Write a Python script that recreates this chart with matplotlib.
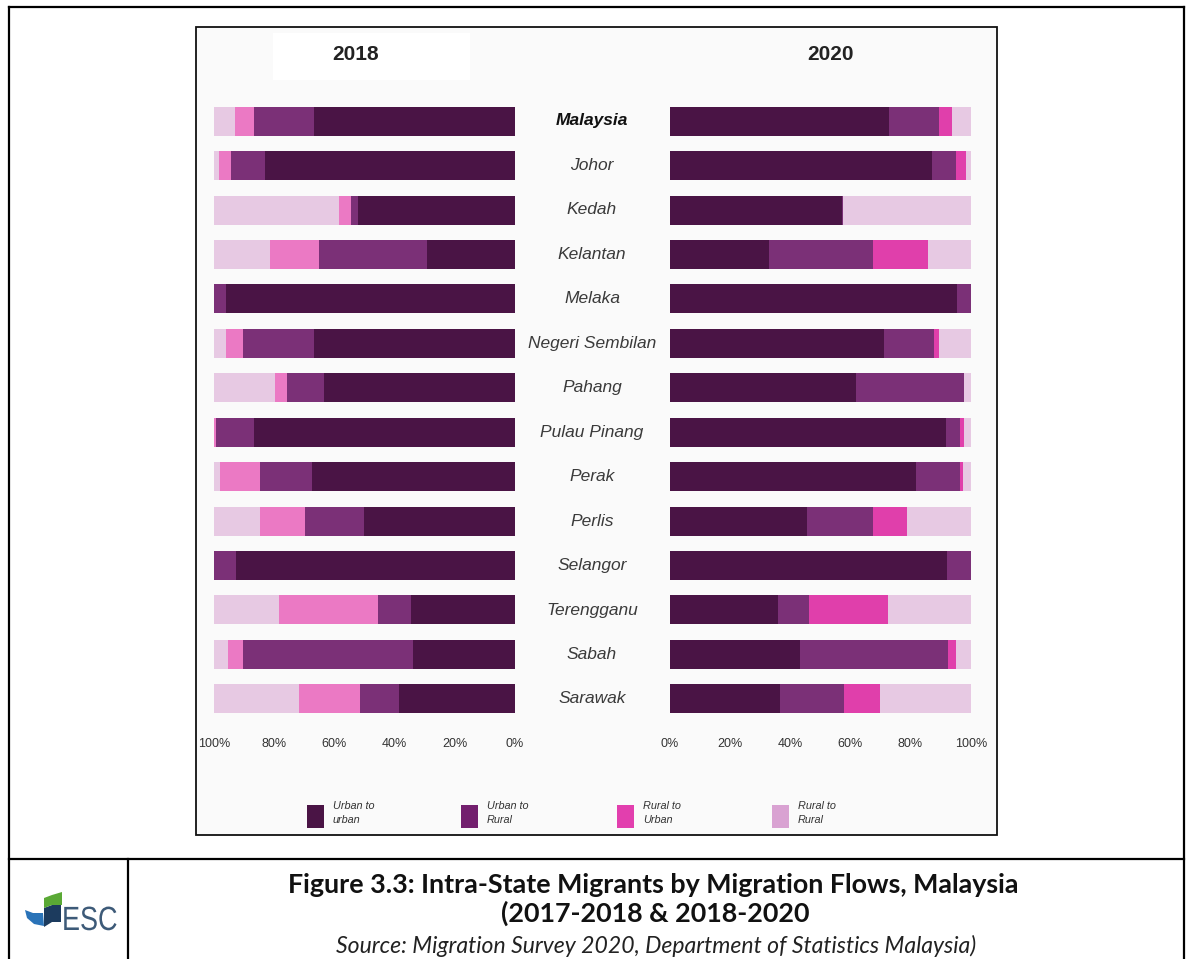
'''
Intra-State migrants by migration flows, Malaysia 2018 vs 2020
'''

import matplotlib
matplotlib.use('Agg')
import matplotlib.pyplot as plt
from matplotlib.patches import Rectangle, Polygon, PathPatch
from matplotlib.textpath import TextPath
from matplotlib.font_manager import FontProperties
from matplotlib.transforms import Affine2D

STATES = ['Malaysia', 'Johor', 'Kedah', 'Kelantan', 'Melaka',
          'Negeri Sembilan', 'Pahang', 'Pulau Pinang', 'Perak', 'Perlis',
          'Selangor', 'Terengganu', 'Sabah', 'Sarawak']
FLOWS = ['Urban to\nurban', 'Urban to\nRural', 'Rural to\nUrban',
         'Rural to\nRural']

# percentages, 2017-2018
UU_2018 = [66.7, 83.1, 52.1, 29.4, 96.1, 66.7, 63.4, 86.7, 67.3, 50.1, 92.6, 34.7, 34.0, 38.7]
UR_2018 = [20.1, 11.3, 2.5, 35.8, 3.9, 23.6, 12.2, 12.5, 17.3, 19.7, 7.4, 10.8, 56.3, 12.7]
RU_2018 = [6.3, 4.0, 3.9, 16.3, 0.0, 5.6, 4.2, 0.8, 13.3, 14.8, 0.0, 33.0, 5.2, 20.3]
RR_2018 = [6.9, 1.6, 41.5, 18.5, 0.0, 4.1, 20.2, 0.0, 2.1, 15.4, 0.0, 21.5, 4.5, 28.3]

# percentages, 2018-2020
UU_2020 = [72.7, 87.2, 57.2, 32.9, 95.6, 71.2, 62.0, 91.7, 81.9, 45.6, 92.0, 35.9, 43.3, 36.7]
UR_2020 = [16.9, 8.0, 0.4, 34.6, 4.4, 16.7, 35.9, 4.6, 14.4, 21.9, 8.0, 10.4, 49.2, 21.2]
RU_2020 = [4.1, 3.1, 0.0, 18.3, 0.0, 1.4, 0.0, 1.5, 1.2, 11.4, 0.0, 26.3, 2.6, 11.8]
RR_2020 = [6.3, 1.7, 42.4, 14.2, 0.0, 10.7, 2.1, 2.2, 2.5, 21.1, 0.0, 27.4, 4.9, 30.3]

PERCENT_TICKS = [0, 20, 40, 60, 80, 100]
PERCENT_LABELS = ['0%', '20%', '40%', '60%', '80%', '100%']

COLORS_2018 = ['#4a1445', '#7b3077', '#eb79c4', '#e7c9e3']
COLORS_2020 = ['#4a1445', '#7b3077', '#e03fab', '#e7c9e3']
LEGEND_COLORS = ['#4a1445', '#731f6e', '#e23fae', '#d9a2d2']

W, H = 1186, 959


def fig_box(x0, y0, x1, y1):
    '''convert pixel box (top-left origin) to figure fractions'''
    return [x0 / W, 1 - y1 / H, (x1 - x0) / W, (y1 - y0) / H]


def draw_frame(fig):
    '''
    Overlay axes in pixel units for borders, caption and logo
    '''
    ov = fig.add_axes([0, 0, 1, 1])
    ov.set_xlim(0, W)
    ov.set_ylim(H, 0)
    ov.axis('off')
    ov.patch.set_alpha(0)

    # chart box and header patch
    ov.add_patch(Rectangle((196, 27), 801, 808, facecolor='#fafafa',
                           edgecolor='#111111', lw=1.3))
    ov.add_patch(Rectangle((273, 33), 197, 47, facecolor='white',
                           edgecolor='none'))

    # table lines
    lw = 1.6
    ov.plot([9, 1184], [7, 7], color='black', lw=lw)
    ov.plot([9, 9], [7, H], color='black', lw=lw)
    ov.plot([1184, 1184], [7, H], color='black', lw=lw)
    ov.plot([9, 1184], [859, 859], color='black', lw=lw)
    ov.plot([128, 128], [859, H], color='black', lw=lw)

    ov.text(356, 55, '2018', ha='center', va='center', fontsize=15,
            fontweight='bold', family='Liberation Sans', color='#222222')
    ov.text(830, 55, '2020', ha='center', va='center', fontsize=15,
            fontweight='bold', family='Liberation Sans', color='#222222')

    # caption
    ov.text(653, 885, 'Figure 3.3: Intra-State Migrants by Migration Flows, Malaysia',
            ha='center', va='center', fontsize=19.4, fontweight='bold',
            family='Lato', color='#111111')
    ov.text(655, 913, '(2017-2018 & 2018-2020', ha='center', va='center',
            fontsize=19.4, fontweight='bold', family='Lato', color='#111111')
    ov.text(656, 946, 'Source: Migration Survey 2020, Department of Statistics Malaysia)',
            ha='center', va='center', fontsize=16.6, style='italic',
            family='Lato', color='#222222')

    # ESC logo
    ov.add_patch(Polygon([(25, 910), (33, 913), (43, 913), (44, 926),
                          (34, 924), (27, 918)], closed=True,
                         facecolor='#2a73b8', edgecolor='none'))
    ov.add_patch(Polygon([(44, 908), (52, 905), (61, 905), (61, 922),
                          (52, 922), (44, 927)], closed=True,
                         facecolor='#1c3b5e', edgecolor='none'))
    ov.add_patch(Polygon([(44, 898), (52, 895), (62, 892), (62, 905),
                          (52, 905), (44, 908)], closed=True,
                         facecolor='#5aa935', edgecolor='none'))
    path = TextPath((0, 0), 'ESC', size=30,
                    prop=FontProperties(family='Liberation Sans'))
    tr = Affine2D().scale(0.9, -1.12).translate(62, 930) + ov.transData
    ov.add_patch(PathPatch(path, transform=tr, facecolor='#3d5a78',
                           edgecolor='none'))

    # legend
    for i, (label, color) in enumerate(zip(FLOWS, LEGEND_COLORS)):
        x = [307, 461, 617, 772][i]
        ov.add_patch(Rectangle((x, 805), 17, 23, facecolor=color,
                               edgecolor='none'))
        ov.text(x + 26, 813, label, ha='left', va='center', fontsize=7.8,
                style='italic', family='Liberation Sans', color='#333333',
                linespacing=1.55)
    return ov


def plot_panel(ax, series, colors, reverse):
    '''
    stacked horizontal bars for one year
    '''
    rows = list(range(len(STATES)))
    left = [0.0] * len(STATES)
    for values, color in zip(series, colors):
        ax.barh(rows, values, left=left, height=0.655, color=color,
                edgecolor='none')
        left = [a + b for a, b in zip(left, values)]
    ax.set_ylim(len(STATES) - 0.5, -0.5)
    ax.set_xlim((100, 0) if reverse else (0, 100))
    ax.set_xticks(PERCENT_TICKS)
    ax.set_xticklabels(PERCENT_LABELS, fontsize=9, color='#333333',
                       family='Liberation Sans')
    ax.tick_params(axis='x', length=0, pad=12)
    ax.set_yticks([])
    ax.patch.set_alpha(0)
    for spine in ax.spines.values():
        spine.set_visible(False)


def run():
    '''
    build and save the figure
    '''
    fig = plt.figure(figsize=(W / 100, H / 100), dpi=100)
    fig.patch.set_facecolor('white')
    draw_frame(fig)

    ax_left = fig.add_axes(fig_box(214, 99, 515, 721))
    plot_panel(ax_left, [UU_2018, UR_2018, RU_2018, RR_2018], COLORS_2018, True)
    ax_right = fig.add_axes(fig_box(670, 99, 970.7, 721))
    plot_panel(ax_right, [UU_2020, UR_2020, RU_2020, RR_2020], COLORS_2020, False)

    for i, state in enumerate(STATES):
        ax_left.text(592 / W, 1 - (121 + i * 44.46) / H, state,
                     transform=fig.transFigure, ha='center', va='center',
                     fontsize=12.5, style='italic', family='Liberation Sans',
                     fontweight='bold' if state == 'Malaysia' else 'normal',
                     color='#111111' if state == 'Malaysia' else '#3a3a3a')

    fig.savefig('out.png', dpi=100)


run()
